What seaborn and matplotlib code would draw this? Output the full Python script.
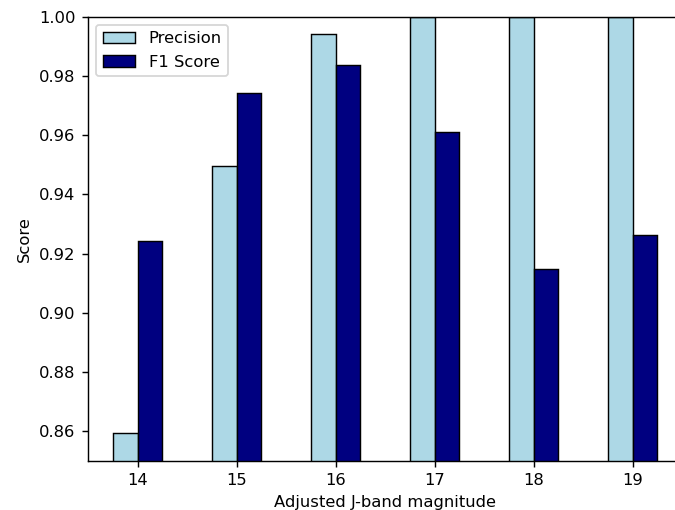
import matplotlib
matplotlib.use("Agg")
import matplotlib.pyplot as plt
import seaborn as sns
import pandas as pd

magnitudes = [14, 15, 16, 17, 18, 19]
precision = [0.8592, 0.9497, 0.9942, 1.0, 1.0, 1.0]
f1_score = [0.9241, 0.9743, 0.9837, 0.9609, 0.9147, 0.9261]
metric_names = ["Precision", "F1 Score"]
metric_colors = ["#ADD8E6", "#000080"]

df = pd.DataFrame({
    "magnitude": magnitudes * 2,
    "score": precision + f1_score,
    "metric": [metric_names[0]] * len(magnitudes) + [metric_names[1]] * len(magnitudes),
})

plt.rcParams["font.size"] = 9.2

fig = plt.figure(figsize=(675 / 128, 510 / 128), dpi=128)
ax = fig.add_axes([88 / 675, 49.3 / 510, 594 / 675, 444 / 510])

sns.barplot(
    data=df, x="magnitude", y="score", hue="metric",
    hue_order=metric_names, palette=metric_colors,
    width=0.5, edgecolor="black", linewidth=0.8,
    saturation=1, ax=ax,
)

ax.set_ylim(0.85, 1.0)
ax.set_xlim(-0.5, len(magnitudes) - 0.5)
ax.set_xlabel("Adjusted J-band magnitude")
ax.set_ylabel("Score")
handles, labels = ax.get_legend_handles_labels()
ax.legend(handles, labels, loc="upper left")

fig.savefig("out.png", dpi=128)
